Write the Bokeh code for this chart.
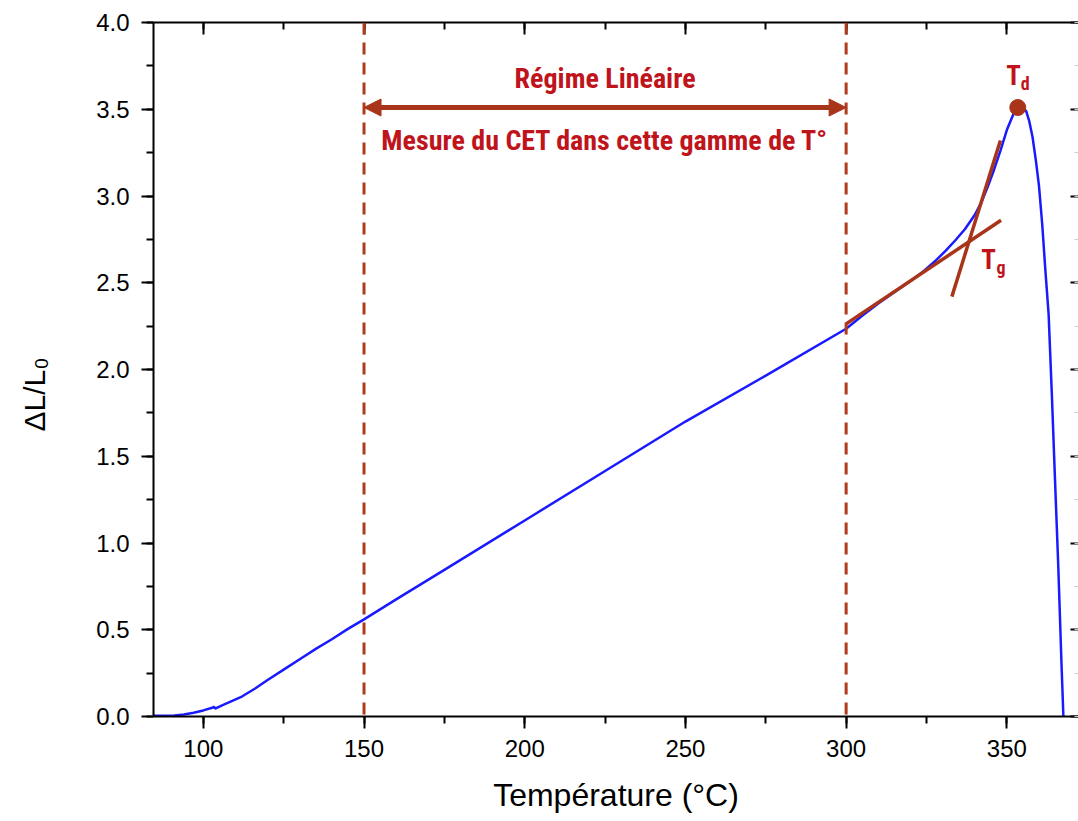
from bokeh.plotting import figure
from bokeh.models import (Range1d, LinearAxis, Span, Arrow, NormalHead,
                          SingleIntervalTicker, NumeralTickFormatter)
from bokeh.core.properties import value
from bokeh.embed import file_html
from bokeh.resources import INLINE

# ---- data ----
temperature = [84.5, 88, 91, 94, 97, 100, 103, 103.3, 103.7, 106, 109, 112, 116, 120, 125,
               130, 135, 140, 145, 150, 160, 175, 200, 225, 250, 275, 300, 305, 310, 315,
               320, 324, 328, 331, 334, 337, 340, 342, 344, 346, 348, 350, 352, 353.5, 355,
               356, 357, 358, 359, 360, 361, 362, 363, 364, 365, 366, 367, 367.6]
dl_l0 = [0.004, 0.004, 0.006, 0.012, 0.022, 0.035, 0.052, 0.056, 0.046, 0.066, 0.09, 0.115,
         0.16, 0.21, 0.27, 0.33, 0.39, 0.445, 0.505, 0.56, 0.675, 0.845, 1.13, 1.415,
         1.70, 1.965, 2.235, 2.31, 2.38, 2.445, 2.51, 2.565, 2.63, 2.685, 2.745, 2.81,
         2.89, 2.96, 3.05, 3.15, 3.26, 3.38, 3.47, 3.515, 3.51, 3.49, 3.43, 3.34, 3.21,
         3.06, 2.84, 2.57, 2.32, 1.86, 1.36, 0.87, 0.31, 0.0]

regime_bounds = [150, 300]          # linear regime limits (dashed lines)
arrow_y = 3.51
tangent1_x = [300, 348.2]
tangent1_y = [2.263, 2.86]
tangent2_x = [332.9, 348.0]
tangent2_y = [2.42, 3.32]
td_x = [353.4]
td_y = [3.51]

x_ticks_interval = 50
y_ticks_interval = 0.5

BLUE = "#1a1aff"
BROWN = "#a8341a"
DASH = "#b03a1e"
RED = "#c0141c"
ANN_FONT = "'Liberation Sans Narrow', 'Roboto Condensed', 'DejaVu Sans Condensed', sans-serif"
NBSP = "\u00a0"

p = figure(width=1078, height=821, output_backend="svg", toolbar_location=None,
           x_range=Range1d(84.5, 372.3), y_range=Range1d(0, 4.0),
           min_border_left=153, min_border_top=22, min_border_bottom=105,
           min_border_right=0)
p.outline_line_color = None
p.grid.visible = False
p.background_fill_color = "white"

xt = SingleIntervalTicker(interval=x_ticks_interval, num_minor_ticks=2)
yt = SingleIntervalTicker(interval=y_ticks_interval, num_minor_ticks=2)

xa = p.below[0]
ya = p.left[0]
xa.ticker = xt
ya.ticker = yt
ya.formatter = NumeralTickFormatter(format="0.0")
xa.formatter = NumeralTickFormatter(format="0")
for ax in (xa, ya):
    ax.axis_line_width = 2
    ax.axis_line_color = "black"
    ax.major_tick_line_width = 2
    ax.minor_tick_line_width = 2
    ax.major_tick_line_color = "black"
    ax.minor_tick_line_color = "black"
    ax.major_tick_out = 12
    ax.major_tick_in = 0
    ax.minor_tick_out = 7
    ax.minor_tick_in = 0
    ax.major_label_text_font = "Liberation Sans"
    ax.major_label_text_font_size = "24px"
    ax.major_label_text_color = "black"
    ax.axis_label_text_font = "Liberation Sans"
    ax.axis_label_text_font_style = "normal"
    ax.axis_label_text_color = "black"
xa.axis_label = "Température (°C)"
xa.axis_label_text_font_size = "32px"
xa.major_label_standoff = 11
xa.axis_label_standoff = 17
ya.axis_label = "ΔL/L₀" + NBSP * 6
ya.axis_label_text_font_size = "30px"
ya.major_label_standoff = 12
ya.axis_label_standoff = 42

top = LinearAxis(ticker=xt, major_label_text_font_size="1px", major_label_standoff=0,
                 major_label_text_color=None,
                 axis_line_width=2, major_tick_line_width=2, minor_tick_line_width=2,
                 major_tick_in=12, major_tick_out=0, minor_tick_in=7, minor_tick_out=0)
p.add_layout(top, "above")
right = LinearAxis(ticker=yt, major_label_text_font_size="1px", major_label_standoff=0,
                   major_label_text_color=None,
                   axis_line_color=None, major_tick_line_width=2, minor_tick_line_width=1,
                   minor_tick_line_color="#cccccc",
                   major_tick_in=8, major_tick_out=0, minor_tick_in=4, minor_tick_out=0)
p.add_layout(right, "right")

# curve
p.line(temperature, dl_l0, line_color=BLUE, line_width=2.5)

# dashed vertical lines
for xb in regime_bounds:
    p.add_layout(Span(location=xb, dimension="height", line_color=DASH,
                      line_width=3, line_dash="12 8"))

# double arrow
p.add_layout(Arrow(start=NormalHead(size=17, fill_color=BROWN, line_color=BROWN),
                   end=NormalHead(size=17, fill_color=BROWN, line_color=BROWN),
                   x_start=regime_bounds[0], y_start=arrow_y,
                   x_end=regime_bounds[1], y_end=arrow_y,
                   line_color=BROWN, line_width=5))

# tangents
p.line(tangent1_x, tangent1_y, line_color=BROWN, line_width=3.5)
p.line(tangent2_x, tangent2_y, line_color=BROWN, line_width=3.5)

# Td point
p.scatter(td_x, td_y, size=16, fill_color=BROWN, line_color=BROWN)

mid = (regime_bounds[0] + regime_bounds[1]) / 2
p.text(x=[mid], y=[3.68], text=["Régime Linéaire"], text_font=value(ANN_FONT),
       text_font_style="bold", text_font_size="28px", text_color=RED,
       text_align="center", text_baseline="middle")
p.text(x=[mid], y=[3.32], text=["Mesure du CET dans cette gamme de T°"],
       text_font=value(ANN_FONT), text_font_style="bold", text_font_size="28px",
       text_color=RED, text_align="center", text_baseline="middle")

# T_g label
p.text(x=[344.3], y=[2.634], text=["T"], text_font=value(ANN_FONT), text_font_style="bold",
       text_font_size="27px", text_color=RED, text_align="center", text_baseline="middle")
p.text(x=[346.8], y=[2.588], text=["g"], text_font=value(ANN_FONT), text_font_style="bold",
       text_font_size="18px", text_color=RED, text_align="left", text_baseline="middle")
# T_d label
p.text(x=[352.1], y=[3.692], text=["T"], text_font=value(ANN_FONT), text_font_style="bold",
       text_font_size="27px", text_color=RED, text_align="center", text_baseline="middle")
p.text(x=[354.3], y=[3.648], text=["d"], text_font=value(ANN_FONT), text_font_style="bold",
       text_font_size="18px", text_color=RED, text_align="left", text_baseline="middle")

open("out.html", "w").write(file_html(p, INLINE))
